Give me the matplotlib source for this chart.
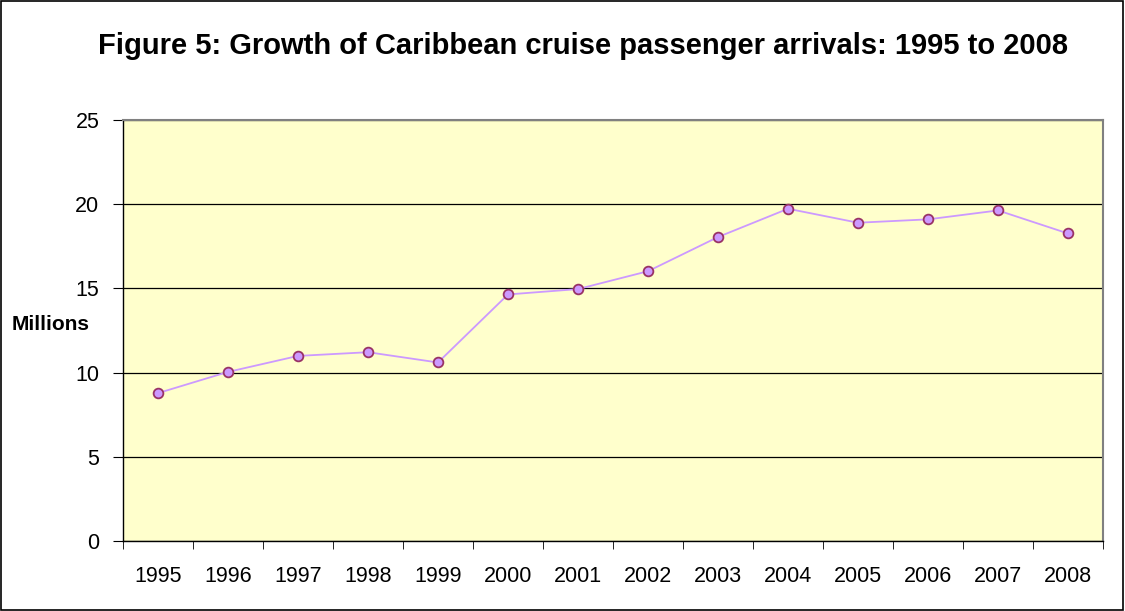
import matplotlib
matplotlib.use('Agg')
import matplotlib.pyplot as plt
from matplotlib.patches import Rectangle

# Caribbean cruise passenger arrivals (millions)
years = ['1995', '1996', '1997', '1998', '1999', '2000', '2001',
         '2002', '2003', '2004', '2005', '2006', '2007', '2008']
arrivals = [8.78, 10.04, 10.99, 11.21, 10.60, 14.64, 14.96,
            16.02, 18.05, 19.73, 18.90, 19.10, 19.63, 18.26]
y_ticks = [0, 5, 10, 15, 20, 25]

plt.rcParams['font.family'] = ['Liberation Sans', 'DejaVu Sans']

fig = plt.figure(figsize=(11.25, 6.11), dpi=100)
fig.patch.set_facecolor('white')
fig.patches.append(Rectangle((0.001, 0.002), 0.997, 0.996, transform=fig.transFigure,
                             fill=False, edgecolor='black', linewidth=1.2))

ax = fig.add_axes([0.1093, 0.1146, 0.8712, 0.689])
ax.set_facecolor('#FFFFCC')

x = list(range(len(years)))
ax.plot(x, arrivals, color='#CC99FF', linewidth=1.3, marker='o', markersize=7,
        markerfacecolor='#CC99FF', markeredgecolor='#993366', markeredgewidth=1.3,
        zorder=3)

ax.set_xlim(-0.5, len(years) - 0.5)
ax.set_ylim(0, 25)
ax.set_yticks(y_ticks)
ax.set_yticklabels([str(v) for v in y_ticks], fontsize=15.5)
ax.yaxis.grid(True, color='black', linewidth=0.9)
ax.set_axisbelow(True)

ax.set_xticks(x)
ax.set_xticklabels(years, fontsize=15.5)
ax.tick_params(axis='x', which='major', length=0, pad=18)
ax.set_xticks([i - 0.5 for i in range(len(years) + 1)], minor=True)
ax.tick_params(axis='x', which='minor', length=6, direction='out', color='black')
ax.tick_params(axis='y', length=7, direction='out', pad=10)

for side in ['left', 'bottom']:
    ax.spines[side].set_color('black')
    ax.spines[side].set_linewidth(1.0)
for side in ['top', 'right']:
    ax.spines[side].set_color('#808080')
    ax.spines[side].set_linewidth(1.5)

fig.text(0.518, 0.911, 'Figure 5: Growth of Caribbean cruise passenger arrivals: 1995 to 2008',
         ha='center', va='baseline', fontsize=21, fontweight='bold')
fig.text(0.0107, 0.46, 'Millions', ha='left', va='baseline', fontsize=15, fontweight='bold')

fig.savefig('out.png', dpi=100)
